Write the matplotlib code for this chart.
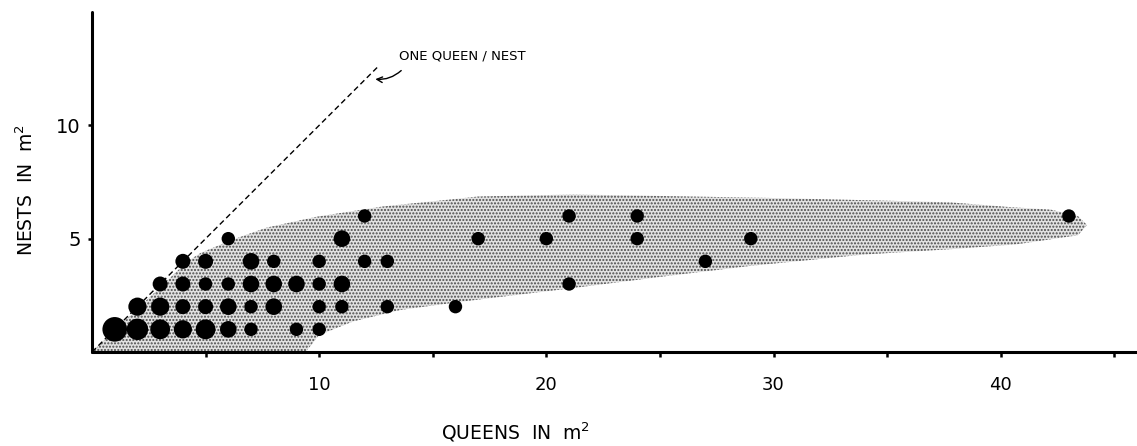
import matplotlib
matplotlib.use("Agg")
import matplotlib.pyplot as plt

# queens and nests per m2, one entry per plotted dot
queens = [1, 2, 3, 4, 5, 6, 7, 9, 10,
          2, 3, 4, 5, 6, 7, 8, 10, 11, 13, 16,
          3, 4, 5, 6, 7, 8, 9, 10, 11, 21,
          4, 5, 7, 8, 10, 12, 13, 27,
          6, 11, 17, 20, 24, 29, 43,
          12, 21, 24]
nests = [1, 1, 1, 1, 1, 1, 1, 1, 1,
         2, 2, 2, 2, 2, 2, 2, 2, 2, 2, 2,
         3, 3, 3, 3, 3, 3, 3, 3, 3, 3,
         4, 4, 4, 4, 4, 4, 4, 4,
         5, 5, 5, 5, 5, 5, 6,
         6, 6, 6]
# number of samples behind each dot (drives dot size)
samples = [8, 6, 5, 4, 5, 3, 1, 1, 1,
           4, 4, 2, 2, 3, 1, 3, 1, 1, 1, 1,
           2, 2, 1, 1, 3, 3, 3, 1, 3, 1,
           2, 2, 3, 1, 1, 1, 1, 1,
           1, 3, 1, 1, 1, 1, 1,
           1, 1, 1]

# hand drawn envelope around the observations (stippled area)
envelope_x = [0, 9.4, 10.0, 11.5, 13.6, 16.5, 21.0, 25.3, 29.0, 34.0, 38.0,
              40.7, 43.4, 43.8, 43.4, 42.2, 40.3, 37.8, 36.0, 29.7, 21.2,
              17.0, 15.8, 12.8, 9.9, 7.7, 6.2, 4.8, 4.2]
envelope_y = [0, 0, 0.75, 1.35, 1.86, 2.25, 2.8, 3.35, 3.8, 4.3, 4.55,
              4.75, 5.15, 5.6, 6.0, 6.28, 6.4, 6.6, 6.65, 6.8, 6.95,
              6.86, 6.73, 6.42, 5.97, 5.49, 4.96, 4.38, 4.0]

# one queen per nest reference line
line_q = [0, 12.55]
line_n = [0, 12.55]

x_major = [10, 20, 30, 40]
x_minor = [5, 15, 25, 35, 45]
y_ticks = [5, 10]


def dot_size(n, dpi=100):
    # radius in pixels grows with the number of samples
    r_px = 5.9 + 0.8 * n
    d_pt = 2 * r_px * 72.0 / dpi
    return d_pt ** 2


plt.rcParams['hatch.linewidth'] = 1.0
plt.rcParams['font.family'] = 'DejaVu Sans'

fig = plt.figure(figsize=(11.37, 4.46), dpi=100)
ax = fig.add_axes([92 / 1137, 94 / 446, 1045 / 1137, 340 / 446])

ax.fill(envelope_x, envelope_y, facecolor='#e2e2e2', edgecolor='none', zorder=1)
ax.fill(envelope_x, envelope_y, facecolor='none', edgecolor='#4a4a4a',
        linewidth=0, hatch='.....', zorder=1.5)

ax.plot(line_q, line_n, color='black', linestyle=(0, (4, 2.5)), linewidth=1.0, zorder=2)

ax.scatter(queens, nests, s=[dot_size(n) for n in samples], c='black',
           linewidths=0, zorder=3)

ax.annotate('', xy=(12.35, 12.05), xytext=(13.7, 12.5),
            arrowprops=dict(arrowstyle='->', color='black', lw=1.0,
                            connectionstyle='arc3,rad=-0.25'))
ax.text(16.3, 13.05, 'ONE QUEEN / NEST', fontsize=9.5, ha='center', va='center')

ax.set_xlim(0, 46)
ax.set_ylim(0, 15)

for side in ['top', 'right']:
    ax.spines[side].set_visible(False)
for side in ['left', 'bottom']:
    ax.spines[side].set_linewidth(2.2)
    ax.spines[side].set_capstyle('round')

ax.set_xticks(x_major)
ax.set_xticks(x_minor, minor=True)
ax.set_yticks(y_ticks)
ax.set_yticklabels(['5', '10'])
ax.tick_params(axis='x', which='both', direction='out', length=3.5, width=1.8,
               pad=14, labelsize=13)
ax.tick_params(axis='y', direction='out', length=3, width=1.8, pad=5, labelsize=14)

fig.text(516 / 1137, 1 - 432 / 446, r'QUEENS  IN  $\mathregular{m^2}$', fontsize=13.5,
         ha='center', va='center')
fig.text(26 / 1137, 1 - 190 / 446, r'NESTS  IN  $\mathregular{m^2}$', fontsize=13.5,
         ha='center', va='center', rotation=90)

fig.savefig('out.png', dpi=100)
